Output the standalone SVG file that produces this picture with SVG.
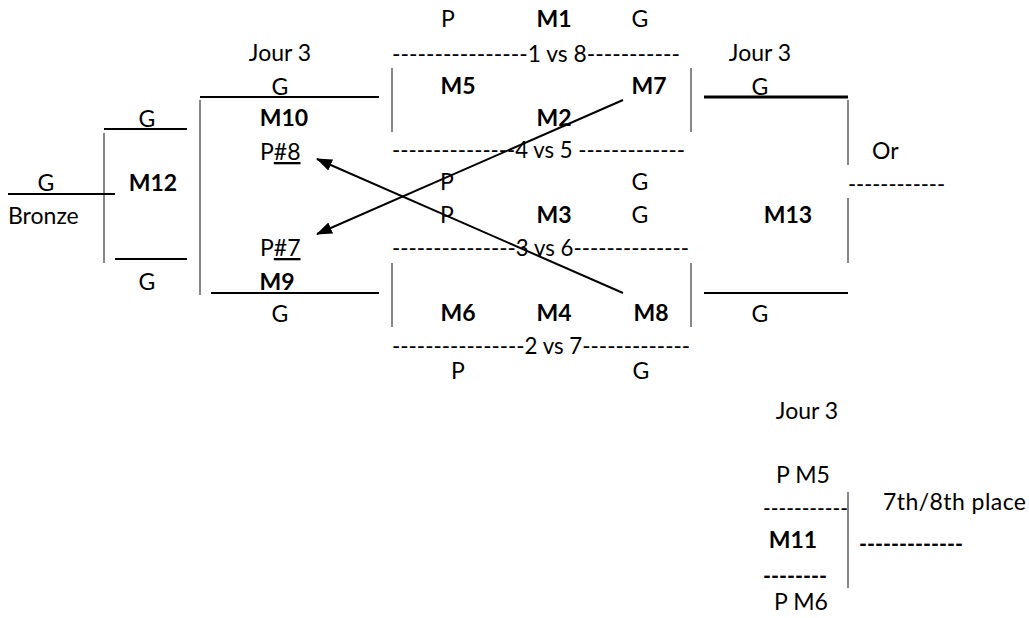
<svg xmlns="http://www.w3.org/2000/svg" width="1029" height="618" viewBox="0 0 1029 618">
<style>
text{font-family:Lato,"Open Sans","Liberation Sans",sans-serif;font-size:23px;fill:#000}
.b{font-weight:bold}
.m{text-anchor:middle}
.h{stroke:#000;stroke-width:2;fill:none}
.hk{stroke:#000;stroke-width:3;fill:none}
.v{stroke:#888;stroke-width:2;fill:none}
.a{stroke:#000;stroke-width:2;fill:none}
</style>
<defs>
<marker id="ah" viewBox="0 0 16 12" refX="15" refY="6" markerWidth="16" markerHeight="12" markerUnits="userSpaceOnUse" orient="auto">
<path d="M0,0 L16,6 L0,12 Z" fill="#000"/>
</marker>
</defs>
<rect width="1029" height="618" fill="#fff"/>

<g id="top-round">
<text class="m" x="448" y="27">P</text>
<text class="m b" x="554" y="27">M1</text>
<text class="m" x="640" y="27">G</text>
<text x="392" y="62" textLength="288" lengthAdjust="spacingAndGlyphs">----------------1 vs 8-----------</text>
<line class="v" x1="392" y1="68" x2="392" y2="132"/>
<line class="v" x1="691" y1="68" x2="691" y2="132"/>
<text class="m b" x="458" y="94">M5</text>
<text class="m b" x="649" y="94">M7</text>
<text class="m b" x="554" y="126">M2</text>
<text x="392" y="158" textLength="293" lengthAdjust="spacingAndGlyphs">---------------4 vs 5 -------------</text>
<text class="m" x="447" y="190">P</text>
<text class="m" x="640" y="190">G</text>
<text class="m" x="447" y="223">P</text>
<text class="m b" x="554" y="223">M3</text>
<text class="m" x="640" y="223">G</text>
<text x="392" y="256" textLength="297" lengthAdjust="spacingAndGlyphs">---------------3 vs 6--------------</text>
<line class="v" x1="392" y1="263" x2="392" y2="327"/>
<line class="v" x1="691" y1="263" x2="691" y2="327"/>
<text class="m b" x="458" y="321">M6</text>
<text class="m b" x="554" y="321">M4</text>
<text class="m b" x="651" y="321">M8</text>
<text x="392" y="354" textLength="298" lengthAdjust="spacingAndGlyphs">----------------2 vs 7-------------</text>
<text class="m" x="458" y="379">P</text>
<text class="m" x="641" y="379">G</text>
</g>

<g id="M10-M9">
<text class="m" x="280" y="61">Jour 3</text>
<text class="m" x="280" y="95">G</text>
<line class="h" x1="200" y1="97" x2="379" y2="97"/>
<line class="v" x1="200" y1="100" x2="200" y2="295"/>
<text class="m b" x="284" y="126">M10</text>
<text x="260" y="160">P<tspan text-decoration="underline">#8</tspan></text>
<text x="260" y="256">P<tspan text-decoration="underline">#7</tspan></text>
<text class="m b" x="277" y="290">M9</text>
<line class="h" x1="211" y1="293" x2="379" y2="293"/>
<text class="m" x="280" y="322">G</text>
</g>

<g id="M12">
<text class="m" x="147" y="127">G</text>
<line class="h" x1="104" y1="129" x2="187" y2="129"/>
<line class="v" x1="104" y1="133" x2="104" y2="263"/>
<text class="m" x="46" y="191">G</text>
<line class="h" x1="8" y1="194" x2="115" y2="194"/>
<text class="m b" x="153" y="191">M12</text>
<text x="8" y="224">Bronze</text>
<line class="h" x1="115" y1="259" x2="187" y2="259"/>
<text class="m" x="147" y="290">G</text>
</g>

<g id="M13">
<text class="m" x="760" y="61">Jour 3</text>
<text class="m" x="760" y="95">G</text>
<line class="hk" x1="704" y1="97" x2="848" y2="97"/>
<line class="v" x1="848" y1="100" x2="848" y2="165"/>
<text x="872" y="159">Or</text>
<text x="848" y="192" textLength="97" lengthAdjust="spacingAndGlyphs">------------</text>
<line class="v" x1="848" y1="198" x2="848" y2="263"/>
<text class="m b" x="788" y="223">M13</text>
<line class="h" x1="704" y1="293" x2="848" y2="293"/>
<text class="m" x="760" y="322">G</text>
</g>

<g id="M11">
<text class="m" x="807" y="419">Jour 3</text>
<text class="m" x="803" y="483">P M5</text>
<text x="763" y="516" textLength="85" lengthAdjust="spacingAndGlyphs">-----------</text>
<line class="v" x1="848" y1="492" x2="848" y2="588"/>
<text x="883" y="510" textLength="143" lengthAdjust="spacing">7th/8th place</text>
<text class="m b" x="793" y="548">M11</text>
<text class="b" x="859" y="552" textLength="104" lengthAdjust="spacingAndGlyphs">-------------</text>
<text class="b" x="763" y="584" textLength="64" lengthAdjust="spacingAndGlyphs">--------</text>
<text class="m" x="801" y="610">P M6</text>
</g>

<g id="connectors">
<line class="a" x1="623" y1="100" x2="317" y2="234" marker-end="url(#ah)"/>
<line class="a" x1="623" y1="293" x2="317" y2="159" marker-end="url(#ah)"/>
</g>
</svg>
